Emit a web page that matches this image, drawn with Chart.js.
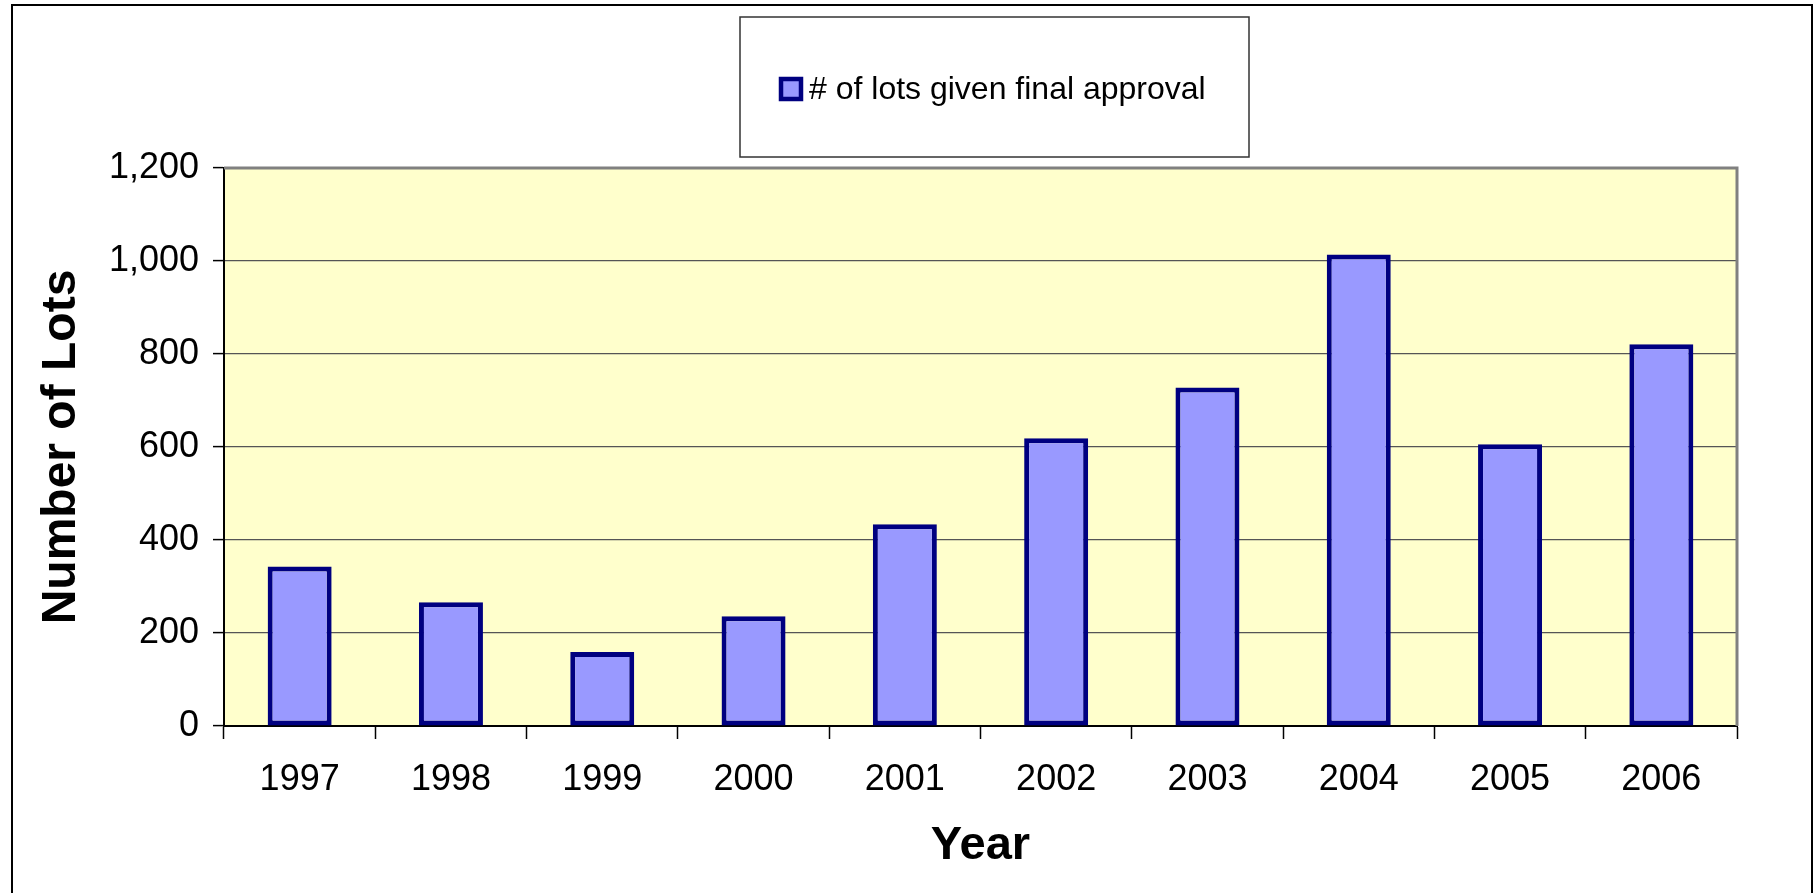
<!DOCTYPE html>
<html>
<head>
<meta charset="utf-8">
<script src="https://cdn.jsdelivr.net/npm/chart.js@4/dist/chart.umd.min.js"></script>
<style>
  html, body { margin: 0; padding: 0; background: #ffffff; }
  #wrap { width: 1818px; height: 893px; }
</style>
</head>
<body>
<div id="wrap"><canvas id="c" width="1818" height="893"></canvas></div>
<script>
const years = ['1997', '1998', '1999', '2000', '2001', '2002', '2003', '2004', '2005', '2006'];
const lotsApproved = [343, 266, 159, 236, 434, 619, 728, 1014, 606, 821];
const seriesLabel = '# of lots given final approval';
const xTitle = 'Year';
const yTitle = 'Number of Lots';
const yMin = 0;
const yMax = 1200;
const yStep = 200;

const FONT = '"Liberation Sans", Arial, sans-serif';

const framePlugin = {
  id: 'frame',
  beforeDraw(chart) {
    const ctx = chart.ctx;
    const a = chart.chartArea;
    ctx.save();
    ctx.fillStyle = '#ffffff';
    ctx.fillRect(0, 0, chart.width, chart.height);
    ctx.fillStyle = '#FFFFCC';
    ctx.fillRect(a.left, a.top, a.right - a.left, a.bottom - a.top);
    ctx.restore();
  },
  afterDraw(chart) {
    const ctx = chart.ctx;
    const a = chart.chartArea;
    ctx.save();
    // plot area grey frame (top and right)
    ctx.strokeStyle = '#808080';
    ctx.lineWidth = 3;
    ctx.beginPath();
    ctx.moveTo(a.left, a.top);
    ctx.lineTo(a.right, a.top);
    ctx.lineTo(a.right, a.bottom);
    ctx.stroke();
    // outer chart frame
    ctx.strokeStyle = '#000000';
    ctx.lineWidth = 2;
    ctx.strokeRect(12, 5, 1800, 900);
    // legend box
    ctx.strokeStyle = '#333333';
    ctx.lineWidth = 1.5;
    ctx.strokeRect(740, 17, 509, 140);
    // legend swatch
    ctx.fillStyle = '#9999FF';
    ctx.fillRect(779, 77, 24, 24);
    ctx.strokeStyle = '#000080';
    ctx.lineWidth = 4.5;
    ctx.strokeRect(781, 79, 20, 20);
    // legend text
    ctx.fillStyle = '#000000';
    ctx.font = '32px ' + FONT;
    ctx.textBaseline = 'middle';
    ctx.textAlign = 'left';
    ctx.fillText(seriesLabel, 809, 90);
    ctx.restore();
  }
};

new Chart(document.getElementById('c'), {
  type: 'bar',
  data: {
    labels: years,
    datasets: [{
      label: seriesLabel,
      data: lotsApproved,
      backgroundColor: '#9999FF',
      borderColor: '#000080',
      borderWidth: 5,
      borderSkipped: false,
      barPercentage: 0.423,
      categoryPercentage: 1.0
    }]
  },
  options: {
    responsive: false,
    animation: false,
    devicePixelRatio: 1,
    layout: { padding: { left: 12, right: 81, top: 168, bottom: 9 } },
    plugins: {
      legend: { display: false },
      tooltip: { enabled: false },
      title: { display: false }
    },
    scales: {
      x: {
        offset: true,
        afterFit(scale) { scale.height = 158; },
        grid: {
          display: true,
          drawOnChartArea: false,
          drawTicks: true,
          tickLength: 13,
          tickColor: '#000000',
          tickWidth: 1.5,
          offset: true
        },
        border: { display: true, color: '#000000', width: 2 },
        ticks: {
          color: '#000000',
          padding: 19,
          maxRotation: 0,
          font: { family: FONT, size: 36 }
        },
        title: {
          display: true,
          text: xTitle,
          color: '#000000',
          font: { family: FONT, size: 47, weight: 'bold' },
          padding: { top: 0, bottom: 10 }
        }
      },
      y: {
        min: yMin,
        max: yMax,
        afterFit(scale) { scale.width = 212; },
        grid: {
          display: true,
          drawOnChartArea: true,
          color: '#555555',
          lineWidth: 1.2,
          drawTicks: true,
          tickLength: 11,
          tickColor: '#000000',
          tickWidth: 1.5
        },
        border: { display: true, color: '#000000', width: 2 },
        ticks: {
          stepSize: yStep,
          color: '#000000',
          padding: 14,
          font: { family: FONT, size: 36 },
          callback: (v) => Number(v).toLocaleString('en-US')
        },
        title: {
          display: true,
          text: yTitle,
          color: '#000000',
          font: { family: FONT, size: 48, weight: 'bold' },
          padding: { top: 21, bottom: 0 }
        }
      }
    }
  },
  plugins: [framePlugin]
});
</script>
</body>
</html>
